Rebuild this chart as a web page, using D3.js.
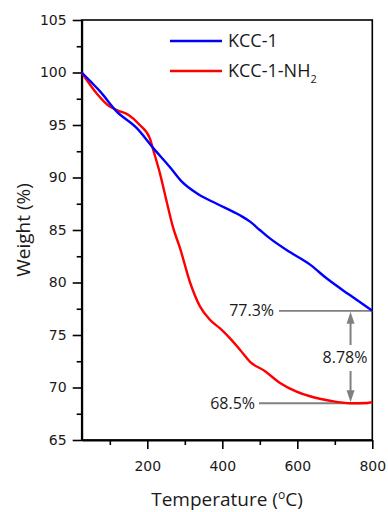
<!DOCTYPE html>
<html>
<head>
<meta charset="utf-8">
<script src="https://cdn.jsdelivr.net/npm/d3@7"></script>
<style>
  html, body { margin: 0; padding: 0; background: #fff; }
  svg { display: block; }
  .tick text { font-family: "DejaVu Sans", sans-serif; font-size: 14px; fill: #1a1a1a; }
</style>
</head>
<body>
<svg id="chart" width="388" height="512"></svg>
<script>
// TGA curves: weight loss vs temperature
const kccTemp   = [25, 50, 74, 118, 172, 216, 260, 292, 336, 385, 447, 474, 500, 527, 580, 634, 678, 740, 800];
const kccWeight = [100, 99.1, 98.2, 96.3, 94.7, 92.8, 91.0, 89.6, 88.4, 87.5, 86.4, 85.8, 85.0, 84.2, 82.9, 81.7, 80.4, 78.8, 77.3];

const nh2Temp   = [25, 65, 100, 120, 150, 180, 207, 216, 234, 252, 269, 287, 314, 340, 367, 394, 420, 447, 474, 514, 554, 598, 643, 687, 742, 785, 800];
const nh2Weight = [100, 98.0, 96.75, 96.4, 95.95, 95.0, 93.7, 92.6, 90.35, 87.65, 85.2, 83.3, 80.0, 77.75, 76.45, 75.62, 74.7, 73.6, 72.45, 71.55, 70.43, 69.6, 69.07, 68.74, 68.5, 68.52, 68.6];

const seriesNames  = ["KCC-1", "KCC-1-NH"];
const seriesColors = ["#0000ff", "#ff0000"];

const xMajorTicks = [200, 400, 600, 800];
const xMinorTicks = [100, 300, 500, 700];
const yMajorTicks = [65, 70, 75, 80, 85, 90, 95, 100, 105];
const yMinorTicks = [67.5, 72.5, 77.5, 82.5, 87.5, 92.5, 97.5, 102.5];

// residual weights and their difference
const residualHigh = 77.3;
const residualLow  = 68.5;
const residualLabels = ["77.3%", "68.5%"];
const diffLabel = "8.78%";
const diffTemp = 742;

const svg = d3.select("#chart");
const plotLeft = 81.7, plotRight = 372.3, plotTop = 20, plotBottom = 440;

const x = d3.scaleLinear().domain([25, 800]).range([plotLeft, plotRight]);
const y = d3.scaleLinear().domain([65, 105]).range([plotBottom, plotTop]);

// frame
svg.append("rect")
  .attr("x", plotLeft).attr("y", plotTop)
  .attr("width", plotRight - plotLeft).attr("height", plotBottom - plotTop)
  .attr("fill", "none").attr("stroke", "#000").attr("stroke-width", 1.6);

// minor ticks
svg.append("g").attr("transform", `translate(0,${plotBottom})`)
  .call(d3.axisBottom(x).tickValues(xMinorTicks).tickSize(5).tickSizeOuter(0).tickFormat(""))
  .call(g => g.select(".domain").remove())
  .call(g => g.selectAll("line").attr("stroke-width", 1.6));
svg.append("g").attr("transform", `translate(${plotLeft},0)`)
  .call(d3.axisLeft(y).tickValues(yMinorTicks).tickSize(5).tickSizeOuter(0).tickFormat(""))
  .call(g => g.select(".domain").remove())
  .call(g => g.selectAll("line").attr("stroke-width", 1.6));

// major ticks with labels
svg.append("g").attr("transform", `translate(0,${plotBottom})`)
  .call(d3.axisBottom(x).tickValues(xMajorTicks).tickSize(9).tickSizeOuter(0).tickPadding(12))
  .call(g => g.select(".domain").attr("stroke-width", 2))
  .call(g => g.selectAll("line").attr("stroke-width", 1.6));
svg.append("g").attr("transform", `translate(${plotLeft},0)`)
  .call(d3.axisLeft(y).tickValues(yMajorTicks).tickSize(9).tickSizeOuter(0).tickPadding(6))
  .call(g => g.select(".domain").attr("stroke-width", 2))
  .call(g => g.selectAll("line").attr("stroke-width", 1.6));

// axis titles
svg.append("text")
  .attr("x", (plotLeft + plotRight) / 2).attr("y", 506)
  .attr("text-anchor", "middle")
  .style("font-family", "'Open Sans', sans-serif").style("font-size", "19px").style("fill", "#1a1a1a")
  .html('Temperature (<tspan dy="-7" font-size="12px">o</tspan><tspan dy="7">C)</tspan>');
svg.append("text")
  .attr("transform", `translate(30,${(plotTop + plotBottom) / 2}) rotate(-90)`)
  .attr("text-anchor", "middle")
  .style("font-family", "'Open Sans', sans-serif").style("font-size", "19px").style("fill", "#1a1a1a")
  .text("Weight (%)");

// residual annotation lines
const grey = "#808080";
const ann = svg.append("g");
ann.append("line")
  .attr("x1", 279).attr("x2", plotRight).attr("y1", y(residualHigh)).attr("y2", y(residualHigh))
  .attr("stroke", grey).attr("stroke-width", 1.8);
ann.append("line")
  .attr("x1", 259).attr("x2", plotRight - 4).attr("y1", y(residualLow)).attr("y2", y(residualLow))
  .attr("stroke", grey).attr("stroke-width", 1.8);
ann.selectAll("text.res").data([residualHigh, residualLow]).join("text")
  .attr("class", "res")
  .attr("x", (d, i) => i === 0 ? 274 : 255)
  .attr("y", d => y(d))
  .attr("dy", "0.35em")
  .attr("text-anchor", "end")
  .style("font-family", "'Open Sans', sans-serif").style("font-size", "16px").style("fill", "#1a1a1a")
  .text((d, i) => residualLabels[i]);

// double arrow between residuals
const ax = x(diffTemp);
const yHi = y(residualHigh), yLo = y(residualLow);
const midY = (yHi + yLo) / 2;
ann.append("line").attr("x1", ax).attr("x2", ax).attr("y1", yHi + 8).attr("y2", midY - 12)
  .attr("stroke", grey).attr("stroke-width", 2);
ann.append("line").attr("x1", ax).attr("x2", ax).attr("y1", midY + 14).attr("y2", yLo - 8)
  .attr("stroke", grey).attr("stroke-width", 2);
ann.append("path")
  .attr("d", `M${ax},${yHi + 1} L${ax - 4},${yHi + 13} L${ax + 4},${yHi + 13} Z`)
  .attr("fill", grey);
ann.append("path")
  .attr("d", `M${ax},${yLo - 1} L${ax - 4},${yLo - 13} L${ax + 4},${yLo - 13} Z`)
  .attr("fill", grey);
ann.append("text")
  .attr("x", ax - 5.5).attr("y", midY).attr("dy", "0.35em")
  .attr("text-anchor", "middle")
  .style("font-family", "'Open Sans', sans-serif").style("font-size", "16px").style("fill", "#1a1a1a")
  .text(diffLabel);

// curves
const line = d3.line().x(d => x(d[0])).y(d => y(d[1])).curve(d3.curveMonotoneX);
const kcc = kccTemp.map((t, i) => [t, kccWeight[i]]);
const nh2 = nh2Temp.map((t, i) => [t, nh2Weight[i]]);
svg.append("path").datum(nh2).attr("d", line)
  .attr("fill", "none").attr("stroke", seriesColors[1]).attr("stroke-width", 2.4);
svg.append("path").datum(kcc).attr("d", line)
  .attr("fill", "none").attr("stroke", seriesColors[0]).attr("stroke-width", 2.4);

// legend
const legend = svg.append("g");
seriesNames.forEach((name, i) => {
  const ly = 41 + i * 30;
  legend.append("line").attr("x1", 170).attr("x2", 222).attr("y1", ly).attr("y2", ly)
    .attr("stroke", seriesColors[i]).attr("stroke-width", 2.4);
  const t = legend.append("text").attr("x", 228).attr("y", ly).attr("dy", "0.36em")
    .style("font-family", "'Open Sans', sans-serif").style("font-size", "18px").style("fill", "#1a1a1a")
    .text(name);
  if (i === 1) {
    t.append("tspan").attr("dy", "6").style("font-size", "11px").text("2");
  }
});
</script>
</body>
</html>
